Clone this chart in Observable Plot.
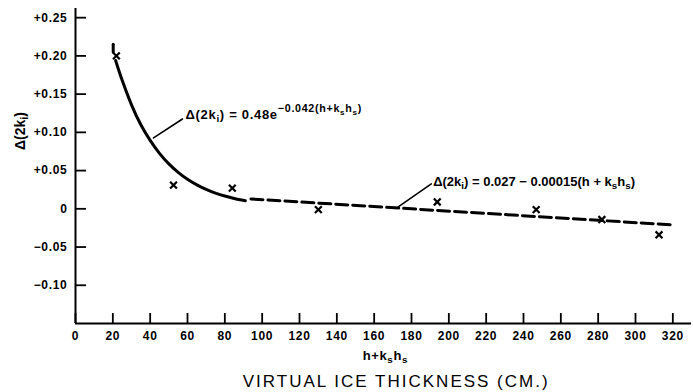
<!DOCTYPE html>
<html><head><meta charset="utf-8">
<script src="https://cdn.jsdelivr.net/npm/d3@7"></script>
<script src="https://cdn.jsdelivr.net/npm/@observablehq/plot@0.6"></script>
<style>html,body{margin:0;padding:0;background:#fff;} svg{display:block}</style>
</head><body><div id="chart"></div>
<script>
// ---- data ----
const obsX = [21.9, 52.5, 84.0, 130.1, 193.8, 246.8, 282.0, 312.6];
const obsY = [0.200, 0.031, 0.027, -0.001, 0.009, -0.001, -0.014, -0.034];

const expCurveX = [21.5, 25, 30, 35, 40, 45, 50, 55, 60, 65, 70, 75, 80, 85, 91];
const expCurveY = [0.194, 0.168, 0.136, 0.110, 0.0895, 0.0725, 0.0588, 0.0477, 0.0386, 0.0313, 0.0254, 0.0206, 0.0167, 0.0135, 0.0105];

const stubX = [20.2, 20.2];
const stubY = [0.2154, 0.205];

const linFitX = [94, 321];
const linFitY = [0.0129, -0.0212];

const xTicks = [0, 20, 40, 60, 80, 100, 120, 140, 160, 180, 200, 220, 240, 260, 280, 300, 320];
const yTicks = [-0.10, -0.05, 0, 0.05, 0.10, 0.15, 0.20, 0.25];
const yTickLabels = ["\u22120.10", "\u22120.05", "0", "+0.05", "+0.10", "+0.15", "+0.20", "+0.25"];

const annTexts = ["\u0394(2k_i) = 0.48e^{\u22120.042(h+k_sh_s)}", "\u0394(2k_i) = 0.027 \u2212 0.00015(h + k_sh_s)"];
const annX = [58.9, 191.6];
const annY = [0.1227, 0.035];
const annSpacing = [0.7, 0];

const arrowX1 = [57.3, 190.6];
const arrowY1 = [0.1175, 0.0326];
const arrowX2 = [41.8, 172.9];
const arrowY2 = [0.0927, 0.0026];
const arrowBend = [0, -35];

const xTitles = ["h+k_sh_s", "VIRTUAL ICE THICKNESS (CM.)"];
const xTitleX = [166, 171.8];
const xTitleDy = [36, 63];
const yTitle = "\u0394(2k_i)";
const yTitleY = 0.077;

// ---- layout ----
const W = 693, H = 392, mL = 75, mR = 2, mT = 8, mB = 69;
const frameW = W - mL - mR, frameH = H - mT - mB;
const font = "'Liberation Sans', Arial, Helvetica, sans-serif";

const idx = n => d3.range(n);

const chart = Plot.plot({
  width: W, height: H,
  marginLeft: mL, marginRight: mR, marginTop: mT, marginBottom: mB,
  style: {fontFamily: font, fontSize: "12px", background: "white", color: "black", overflow: "visible"},
  x: {domain: [0, 330], label: null},
  y: {domain: [-0.15, 0.262], label: null},
  marks: [
    Plot.axisX({ticks: xTicks, tickSize: 0, tickPadding: 8, tickFormat: d => String(d), fontWeight: "bold", fontSize: 12, label: null}),
    Plot.axisY({ticks: yTicks, tickSize: 0, tickPadding: 8,
      tickFormat: d => yTickLabels[yTicks.findIndex(v => Math.abs(v - d) < 1e-9)],
      fontWeight: "bold", fontSize: 12, label: null}),
    Plot.tickX(xTicks, {x: d => d, insetTop: frameH - 10, strokeWidth: 1.8}),
    Plot.tickY(yTicks, {y: d => d, insetRight: frameW - 11, strokeWidth: 1.8}),
    Plot.ruleX([0], {strokeWidth: 2}),
    Plot.ruleY([-0.15], {strokeWidth: 2}),
    Plot.line(idx(expCurveX.length), {x: i => expCurveX[i], y: i => expCurveY[i], curve: "natural", strokeWidth: 3}),
    Plot.line(idx(stubX.length), {x: i => stubX[i], y: i => stubY[i], strokeWidth: 3}),
    Plot.line(idx(linFitX.length), {x: i => linFitX[i], y: i => linFitY[i], strokeWidth: 3, strokeDasharray: "12,5"}),
    Plot.dot(idx(obsX.length), {x: i => obsX[i], y: i => obsY[i], symbol: "times", r: 3.2, stroke: "black", strokeWidth: 2.2}),
    Plot.arrow(idx(arrowX1.length), {x1: i => arrowX1[i], y1: i => arrowY1[i], x2: i => arrowX2[i], y2: i => arrowY2[i],
      bend: i => arrowBend[i], strokeWidth: 1.6, headLength: 8}),
    Plot.text(idx(annTexts.length), {x: i => annX[i], y: i => annY[i], text: i => annTexts[i], textAnchor: "start", fontSize: 13, fontWeight: "bold"}),
    Plot.text(idx(xTitles.length), {x: i => xTitleX[i], frameAnchor: "bottom", text: i => xTitles[i],
      fontSize: i => i === 0 ? 13 : 17}),
    Plot.text([yTitle], {frameAnchor: "left", y: () => yTitleY, dx: -55, rotate: -90, text: d => d, fontSize: 14, fontWeight: "bold"})
  ]
});
document.getElementById("chart").appendChild(chart);

// letter spacing for tick labels
chart.querySelectorAll('g[aria-label="x-axis tick label"] text, g[aria-label="y-axis tick label"] text').forEach(el => el.setAttribute("letter-spacing", "0.7"));

// position x titles (offset per line), annotation spacing
chart.querySelectorAll("text").forEach(el => {
  const k = xTitles.indexOf(el.textContent);
  if (k >= 0) {
    el.setAttribute("transform", (el.getAttribute("transform") || "") + ` translate(0,${xTitleDy[k]})`);
    if (k === 0) { el.setAttribute("font-weight", "bold"); el.setAttribute("letter-spacing", "0.6"); }
    else el.setAttribute("letter-spacing", "2");
  }
  const a = annTexts.indexOf(el.textContent);
  if (a >= 0 && annSpacing[a]) el.setAttribute("letter-spacing", annSpacing[a]);
});

// sub/superscript markup
function parseMarkup(s) {
  const tokens = []; let sup = false;
  const push = (t, lv) => {
    const last = tokens[tokens.length - 1];
    if (last && last.lv === lv) last.t += t; else tokens.push({t, lv});
  };
  for (let i = 0; i < s.length;) {
    const c = s[i];
    if (c === "_") { push(s[i + 1], sup ? "supsub" : "sub"); i += 2; continue; }
    if (c === "^" && s[i + 1] === "{") { sup = true; i += 2; continue; }
    if (c === "}" && sup) { sup = false; i++; continue; }
    push(c, sup ? "sup" : "norm"); i++;
  }
  return tokens;
}
const offs = {norm: 0, sub: 3, sup: -7, supsub: -4};
const scale = {norm: 1, sub: 0.75, sup: 0.82, supsub: 0.62};
chart.querySelectorAll("text").forEach(el => {
  const s = el.textContent;
  if (!/[_^]/.test(s) || el.querySelector("tspan")) return;
  const base = parseFloat(getComputedStyle(el).fontSize) || 12;
  const toks = parseMarkup(s);
  el.textContent = "";
  let cur = 0;
  toks.forEach(tk => {
    const ts = document.createElementNS("http://www.w3.org/2000/svg", "tspan");
    ts.textContent = tk.t;
    ts.setAttribute("font-size", (base * scale[tk.lv]).toFixed(1));
    const d = offs[tk.lv] - cur;
    if (d !== 0) ts.setAttribute("dy", d);
    cur = offs[tk.lv];
    el.appendChild(ts);
  });
});
</script>
</body></html>
